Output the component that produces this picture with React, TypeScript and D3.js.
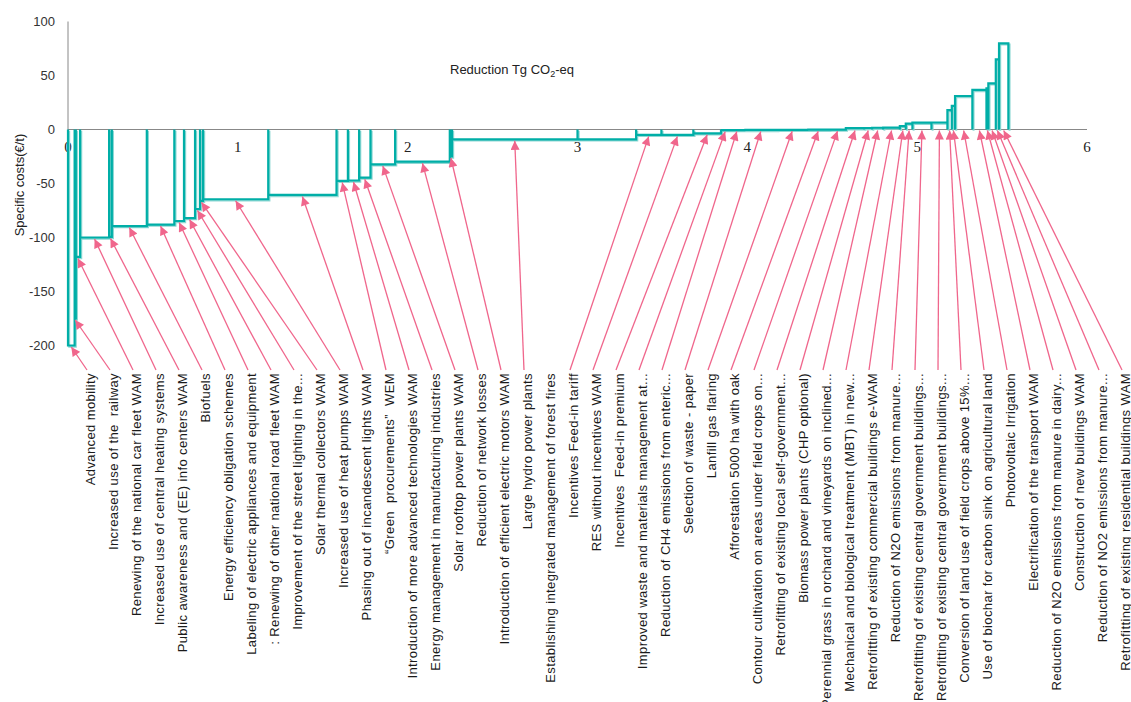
import React from "react";
import * as d3 from "d3";

const labels = [
  "Advanced mobility",
  "Increased use of the  railway",
  "Renewing of the national car fleet WAM",
  "Increased use of central heating systems",
  "Public awareness and (EE) info centers WAM",
  "Biofuels",
  "Energy efficiency obligation schemes",
  "Labeling of electric appliances and equipment",
  ": Renewing of other national road fleet WAM",
  "Improvement of the street lighting in the...",
  "Solar thermal collectors WAM",
  "Increased use of heat pumps WAM",
  "Phasing out of incandescent lights WAM",
  "\u201cGreen  procurements\u201d  WEM",
  "Introduction of more advanced technologies WAM",
  "Energy management in manufacturing industries",
  "Solar rooftop power plants WAM",
  "Reduction of network losses",
  "Introduction of efficient electric motors WAM",
  "Large hydro power plants",
  "Establishing integrated management of forest fires",
  "Incentives Feed-in tariff",
  "RES without incentives WAM",
  "Incentives  Feed-in premium",
  "Improved waste and materials management at...",
  "Reduction of CH4 emissions from enteric...",
  "Selection of waste - paper",
  "Lanfill gas flaring",
  "Afforestation 5000 ha with oak",
  "Contour cultivation on areas under field crops on...",
  "Retrofitting of existing local self-government...",
  "Biomass power plants (CHP optional)",
  "Perennial grass in orchard and vineyards on inclined...",
  "Mechanical and biological treatment (MBT) in new...",
  "Retrofitting of existing commercial buildings e-WAM",
  "Reduction of N2O emissions from manure...",
  "Retrofitting of existing central government buildings...",
  "Retrofitting of existing central government buildings...",
  "Conversion of land use of field crops above 15%...",
  "Use of biochar for carbon sink on agricultural land",
  "Photovoltaic Irrigation",
  "Electrification of the transport WAM",
  "Reduction of N2O emissions from manure in dairy...",
  "Construction of new buildings WAM",
  "Reduction of NO2 emissions from manure...",
  "Retrofitting of existing residential buildings WAM",
];

// Reduction (Tg CO2-eq) of each measure = width of its step
const reduction = [
  0.039, 0.007, 0.025, 0.171, 0.016, 0.206, 0.162, 0.057, 0.065, 0.029,
  0.018, 0.384, 0.402, 0.067, 0.066, 0.067, 0.145, 0.322, 0.013, 0.739,
  0.345, 0.149, 0.188, 0.163, 0.049, 0.088, 0.194, 0.176, 0.13, 0.098,
  0.108, 0.047, 0.065, 0.098, 0.035, 0.039, 0.112, 0.094, 0.026, 0.019,
  0.102, 0.083, 0.011, 0.044, 0.019, 0.055,
];

// Specific costs (EUR/t)
const cost = [
  -200, -175, -118, -100, -99.5, -89.4, -88, -84.7, -82, -73.6,
  -66, -64.6, -60.6, -47.6, -47.2, -44.6, -32.3, -29.8, -25, -9.1,
  -9.1, -5, -5, -3.5, -0.6, -0.5, -0.4, -0.3, -0.2, -0.1,
  1.2, 1.4, 1.6, 1.8, 3.2, 5.5, 6.3, 6.5, 18, 21.8,
  31, 36.6, 38, 42.8, 65, 79.8,
];

const noArrow = ["Establishing integrated management of forest fires"];

const xTicks = [0, 1, 2, 3, 4, 5, 6];
const yTicks = [100, 50, 0, -50, -100, -150, -200];

const W = 1131;
const H = 702;
const TEAL = "#00aea7";
const TEAL_LIGHT = "#8fd8d4";
const PINK = "#f0668c";
const SANS = "'Liberation Sans', Arial, sans-serif";
const SERIF = "'Liberation Serif', 'Times New Roman', serif";

export default function App() {
  const x = d3.scaleLinear().domain([0, 6]).range([68, 1087]);
  const y = d3.scaleLinear().domain([-200, 100]).range([345.5, 21.5]);
  const lx = d3.scalePoint<string>().domain(labels.map((_, i) => String(i))).range([90, 1125]);

  const ends = Array.from(d3.cumsum(reduction));
  const starts = ends.map((e, i) => e - reduction[i]);

  const p = d3.path();
  starts.forEach((s, i) => {
    p.moveTo(x(s), y(0));
    p.lineTo(x(s), y(cost[i]));
    p.lineTo(x(ends[i]), y(cost[i]));
    p.lineTo(x(ends[i]), y(0));
  });
  const stepPath = p.toString();

  const labelTop = 373;

  return (
    <svg
      width={W}
      height={H}
      style={{ position: "absolute", left: 0, top: 0, background: "#fff" }}
      fontFamily={SANS}
    >
      <defs>
        <marker
          id="ah"
          viewBox="0 0 10 10"
          refX="10"
          refY="5"
          markerWidth="10"
          markerHeight="9"
          markerUnits="userSpaceOnUse"
          orient="auto"
        >
          <path d="M0,0 L10,5 L0,10 z" fill={PINK} />
        </marker>
      </defs>

      {/* axes */}
      <line x1={x(0)} x2={x(0)} y1={y(100)} y2={y(-200)} stroke="#888" strokeWidth={1} />
      <line x1={x(0)} x2={x(6)} y1={y(0)} y2={y(0)} stroke="#888" strokeWidth={1.2} />

      {yTicks.map((t) => (
        <text key={t} x={55} y={y(t)} dy="0.35em" textAnchor="end" fontSize={13} fill="#333">
          {t}
        </text>
      ))}
      {xTicks.map((t) => (
        <text key={t} x={x(t)} y={152} textAnchor="middle" fontSize={15} fontFamily={SERIF} fill="#222">
          {t}
        </text>
      ))}

      <text
        transform={`translate(24,185) rotate(-90)`}
        textAnchor="middle"
        fontSize={13}
        fill="#222"
      >
        Specific costs(€/t)
      </text>

      <text x={450} y={74} fontSize={13} fill="#222">
        Reduction Tg CO<tspan fontSize={9} dy={3}>2</tspan>
        <tspan dy={-3}>-eq</tspan>
      </text>

      {/* step curve */}
      <path d={stepPath} fill="none" stroke={TEAL_LIGHT} strokeWidth={2} transform="translate(1.2,1.2)" />
      <path d={stepPath} fill="none" stroke={TEAL} strokeWidth={2.2} />

      {/* callout arrows */}
      {labels.map((l, i) => {
        if (noArrow.includes(l)) return null;
        const tx = x((starts[i] + ends[i]) / 2);
        const ty = cost[i] < 0 ? y(cost[i]) + 1.5 : y(0) + 1;
        const sx = (lx(String(i)) as number) - 3;
        return (
          <line
            key={i}
            x1={sx}
            y1={labelTop - 3}
            x2={tx}
            y2={ty}
            stroke={PINK}
            strokeWidth={1.3}
            markerEnd="url(#ah)"
          />
        );
      })}

      {/* category labels */}
      {labels.map((l, i) => (
        <text
          key={i}
          transform={`translate(${(lx(String(i)) as number) + 4.5},${labelTop}) rotate(-90)`}
          textAnchor="end"
          fontSize={13}
          letterSpacing={0.4}
          fill="#1a1a1a"
          style={{ whiteSpace: "pre" }}
        >
          {l}
        </text>
      ))}
    </svg>
  );
}
